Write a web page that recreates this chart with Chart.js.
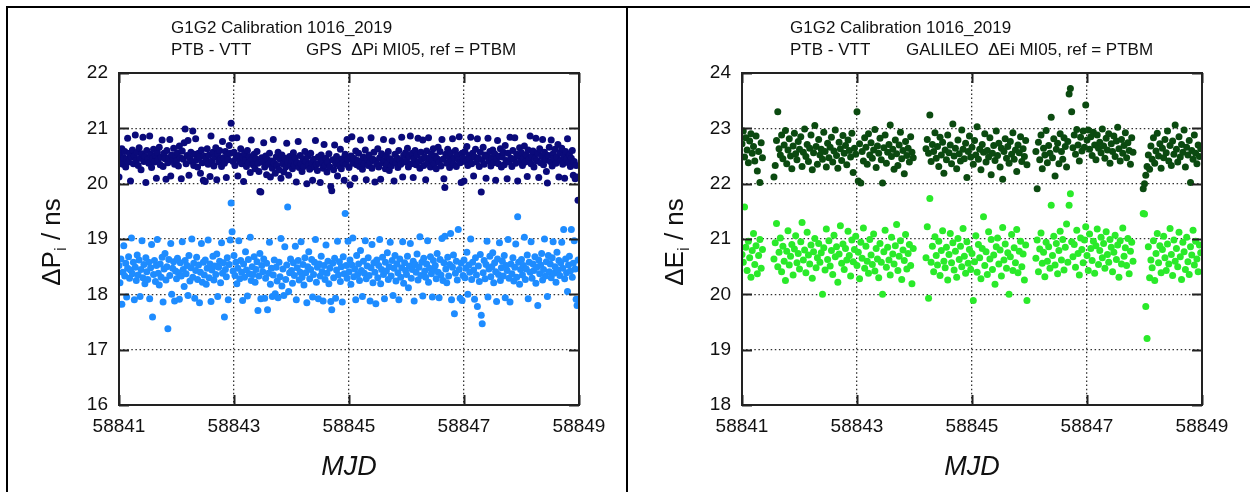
<!DOCTYPE html>
<html>
<head>
<meta charset="utf-8">
<script src="https://cdn.jsdelivr.net/npm/chart.js@4.4.1/dist/chart.umd.min.js"></script>
<style>
    html, body { margin: 0; padding: 0; background: #fff; }
    #page { position: relative; width: 1250px; height: 492px; overflow: hidden; }
    canvas { position: absolute; top: 0; }
    .rule { position: absolute; background: #000; z-index: 2; }
</style>
</head>
<body>
<div id="page">
    <canvas id="gpsChart" width="626" height="492" style="left:0"></canvas>
    <canvas id="galChart" width="627" height="492" style="left:623px"></canvas>
    <div class="rule" style="left:6px;top:6px;width:2px;height:486px"></div>
    <div class="rule" style="left:6px;top:6px;width:1244px;height:2px"></div>
    <div class="rule" style="left:626px;top:6px;width:2px;height:486px"></div>
</div>
<script>
// MJD axis
const mjdStart = 58841;
const mjdTicks = [58841, 58843, 58845, 58847, 58849];
const gpsTicksY = [16, 17, 18, 19, 20, 21, 22];
const galTicksY = [18, 19, 20, 21, 22, 23, 24];
// tracks per day in each file
const gpsPerDay = 60;
const galPerDay = 45;

// GPS  dPi, upper (dark) and lower (light) cloud, ns
const gpsDeltaP1 = [
    20.12, 20.52, 20.41, 20.63, 20.35, 20.47, 20.58, 20.30, 20.44, 20.82,
    20.39, 20.55, 20.05, 20.48, 20.61, 20.36, 20.50, 20.88, 20.42, 20.57,
    20.33, 20.65, 20.46, 20.25, 20.54, 20.84, 20.40, 20.49, 20.02, 20.60,
    20.44, 20.37, 20.86, 20.53, 20.29, 20.46, 20.62, 20.39, 20.51, 20.10,
    20.57, 20.43, 20.66, 20.34, 20.48, 20.79, 20.31, 20.55, 20.45, 20.08,
    20.60, 20.38, 20.47, 20.80, 20.14, 20.52, 20.42, 20.64, 20.35, 20.50,
    20.41, 20.56, 20.32, 20.68, 20.47, 20.09, 20.59, 20.44, 20.74, 20.99,
    20.36, 20.51, 20.78, 20.15, 20.46, 20.57, 20.40, 20.95, 20.33, 20.53,
    20.81, 20.43, 20.30, 20.55, 20.48, 20.19, 20.61, 20.38, 20.06, 20.50,
    20.04, 20.45, 20.63, 20.35, 20.52, 20.13, 20.86, 20.41, 20.57, 20.32,
    20.48, 20.65, 20.07, 20.54, 20.39, 20.60, 20.45, 20.31, 20.76, 20.47,
    20.37, 20.58, 20.11, 20.52, 20.43, 20.69, 20.55, 21.09, 20.82, 20.40,
    20.57, 20.33, 20.46, 20.83, 20.14, 20.51, 20.40, 20.63, 20.36, 20.48,
    20.04, 20.55, 20.42, 20.31, 20.60, 20.38, 20.49, 20.20, 20.79, 20.44,
    20.34, 20.53, 20.27, 20.45, 20.58, 20.37, 20.22, 19.86, 19.85, 20.47,
    20.39, 20.74, 20.30, 20.50, 20.16, 20.43, 20.35, 20.55, 20.12, 20.41,
    20.28, 20.80, 20.37, 20.19, 20.48, 20.33, 20.57, 20.25, 20.44, 20.10,
    20.52, 20.36, 20.21, 20.46, 20.30, 20.73, 20.39, 20.15, 20.49, 20.34,
    20.42, 20.27, 20.56, 20.33, 20.47, 20.03, 20.38, 20.76, 20.29, 20.51,
    20.36, 20.22, 20.45, 20.31, 20.58, 20.40, 20.00, 20.49, 20.34, 20.26,
    20.55, 20.38, 20.06, 20.44, 20.30, 20.78, 20.35, 20.24, 20.48, 20.37,
    20.02, 20.52, 20.41, 20.28, 20.71, 20.33, 20.46, 20.21, 20.39, 20.54,
    20.30, 19.95, 19.87, 20.43, 20.25, 20.70, 20.36, 20.49, 20.14, 20.40,
    20.32, 20.62, 20.27, 20.45, 20.38, 20.06, 20.53, 20.35, 20.80, 20.44,
    20.29, 19.98, 20.50, 20.85, 20.37, 20.46, 20.10, 20.59, 20.34, 20.42,
    20.55, 20.31, 20.79, 20.40, 20.26, 20.48, 20.36, 20.61, 20.07, 20.45,
    20.33, 20.52, 20.39, 20.83, 20.28, 20.44, 20.57, 20.03, 20.41, 20.35,
    20.63, 20.30, 20.47, 20.08, 20.54, 20.38, 20.80, 20.42, 20.27, 20.50,
    20.36, 20.58, 20.24, 20.45, 20.32, 20.77, 20.40, 20.05, 20.53, 20.37,
    20.47, 20.29, 20.60, 20.43, 20.35, 20.84, 20.12, 20.51, 20.39, 20.56,
    20.41, 20.64, 20.30, 20.49, 20.86, 20.36, 20.55, 20.11, 20.45, 20.60,
    20.34, 20.52, 20.82, 20.40, 20.28, 20.57, 20.44, 20.79, 20.33, 20.48,
    20.07, 20.59, 20.38, 20.83, 20.46, 20.30, 20.54, 20.42, 20.63, 20.36,
    20.50, 20.27, 20.45, 20.66, 20.39, 20.58, 20.32, 20.80, 20.44, 20.09,
    19.93, 20.53, 20.37, 20.62, 20.48, 20.29, 20.56, 20.41, 20.81, 20.35,
    20.47, 20.60, 20.31, 20.52, 20.43, 20.85, 20.38, 20.02, 20.55, 20.46,
    20.05, 20.58, 20.40, 20.67, 20.33, 20.51, 20.44, 20.84, 20.36, 20.55,
    20.14, 20.48, 20.62, 20.39, 20.81, 20.46, 20.31, 20.57, 19.85, 20.43,
    20.66, 20.35, 20.52, 20.10, 20.49, 20.82, 20.41, 20.58, 20.32, 20.47,
    20.61, 20.38, 20.54, 20.06, 20.45, 20.78, 20.36, 20.50, 20.63, 20.30,
    20.48, 20.57, 20.34, 20.69, 20.42, 20.09, 20.55, 20.39, 20.84, 20.46,
    20.31, 20.60, 20.44, 20.83, 20.37, 20.53, 20.05, 20.49, 20.65, 20.40,
    20.56, 20.33, 20.47, 20.68, 20.39, 20.52, 20.13, 20.61, 20.44, 20.86,
    20.36, 20.50, 20.59, 20.30, 20.46, 20.82, 20.41, 20.55, 20.11, 20.63,
    20.38, 20.49, 20.80, 20.34, 20.57, 20.43, 20.22, 20.01, 20.51, 20.66,
    20.40, 20.79, 20.32, 20.54, 20.45, 20.62, 20.37, 20.48, 20.71, 20.12,
    20.56, 20.42, 20.64, 20.35, 20.50, 20.10, 20.58, 20.44, 20.81, 20.38,
    20.52, 20.31, 20.46, 20.60, 20.15, 20.40, 20.09, 20.33, 20.12, 19.70
];
const gpsDeltaP2 = [
    18.52, 18.21, 18.64, 17.82, 18.40, 18.88, 18.33, 18.56, 17.95, 18.47,
    18.68, 18.29, 18.44, 19.02, 18.37, 18.58, 17.90, 18.49, 18.25, 18.71,
    18.35, 18.62, 17.96, 18.45, 18.97, 18.30, 18.54, 18.19, 18.66, 18.41,
    18.27, 18.58, 17.92, 18.48, 18.90, 17.59, 18.36, 18.61, 18.23, 18.52,
    18.99, 18.38, 18.17, 18.55, 18.31, 18.67, 17.86, 18.46, 18.74, 18.26,
    18.50, 17.38, 18.63, 18.34, 18.92, 18.00, 18.47, 18.59, 17.88, 18.42,
    18.28, 18.65, 18.39, 17.91, 18.57, 18.33, 18.95, 18.45, 18.14, 18.61,
    18.37, 18.52, 17.98, 18.70, 18.24, 18.48, 19.00, 18.31, 18.56, 17.93,
    18.43, 18.67, 18.27, 18.53, 17.85, 18.40, 18.92, 18.22, 18.58, 18.35,
    18.62, 18.18, 18.47, 18.98, 18.30, 18.55, 17.87, 18.44, 18.69, 18.26,
    18.51, 18.36, 18.73, 17.96, 18.49, 18.60, 18.21, 18.93, 18.38, 18.57,
    17.59, 18.45, 18.32, 18.66, 17.90, 18.54, 18.98, 19.65, 19.13, 18.42,
    18.70, 18.34, 18.58, 18.19, 18.47, 18.97, 18.28, 18.61, 18.40, 17.89,
    18.55, 18.31, 18.77, 18.44, 17.97, 18.63, 18.37, 19.03, 18.25, 18.50,
    18.36, 18.68, 18.22, 18.45, 18.59, 17.71, 18.33, 18.74, 17.92, 18.52,
    18.41, 18.64, 17.93, 18.29, 18.56, 17.72, 18.38, 18.94, 18.18, 18.47,
    17.96, 18.35, 18.62, 18.01, 18.49, 18.24, 17.94, 18.58, 18.32, 19.01,
    18.15, 18.46, 17.98, 18.86, 18.27, 18.53, 19.58, 18.05, 18.39, 18.64,
    18.43, 18.20, 18.57, 18.34, 18.87, 17.90, 18.48, 18.61, 18.26, 18.40,
    18.95, 18.31, 18.54, 18.17, 18.66, 18.39, 17.85, 18.50, 18.77, 18.28,
    18.45, 18.63, 17.95, 18.36, 18.58, 18.99, 18.22, 18.49, 17.92, 18.55,
    18.33, 18.69, 18.41, 17.88, 18.52, 18.27, 18.89, 18.38, 18.60, 18.19,
    18.47, 17.87, 17.72, 18.56, 18.30, 18.65, 17.93, 18.44, 18.96, 18.35,
    18.59, 18.23, 18.50, 17.86, 18.68, 18.37, 19.46, 18.52, 18.29, 18.96,
    18.41, 18.62, 18.18, 18.53, 19.02, 18.32, 18.46, 17.90, 18.70, 18.36,
    18.55, 18.25, 18.79, 18.43, 17.96, 18.60, 18.38, 18.97, 18.28, 18.51,
    18.66, 18.34, 17.88, 18.48, 18.90, 18.21, 18.57, 18.40, 17.83, 18.62,
    18.30, 18.52, 18.99, 18.19, 18.45, 18.67, 18.36, 17.92, 18.58, 18.42,
    18.75, 18.27, 18.50, 18.94, 18.33, 18.61, 17.98, 18.47, 18.70, 18.24,
    18.55, 18.39, 17.90, 18.64, 18.31, 18.48, 18.95, 18.20, 18.57, 18.43,
    18.36, 18.69, 18.12, 18.51, 18.92, 18.29, 18.45, 18.60, 17.88, 18.54,
    18.40, 18.73, 18.26, 18.49, 19.04, 18.34, 18.58, 17.97, 18.65, 18.42,
    18.31, 18.55, 18.97, 18.22, 18.47, 18.68, 18.37, 17.95, 18.61, 18.44,
    18.52, 18.28, 18.74, 18.40, 17.94, 18.63, 18.35, 19.01, 18.25, 18.57,
    19.05, 18.46, 18.21, 18.67, 18.33, 18.54, 19.10, 17.90, 18.49, 18.71,
    17.65, 18.38, 18.60, 18.26, 19.17, 18.45, 17.93, 18.56, 17.89, 18.34,
    18.62, 18.30, 18.47, 18.76, 18.00, 18.53, 18.40, 19.00, 18.27, 18.58,
    18.44, 17.91, 18.66, 18.35, 17.78, 18.51, 18.23, 18.72, 17.62, 17.47,
    18.39, 18.61, 18.28, 18.54, 18.96, 17.95, 18.46, 18.69, 18.32, 18.50,
    18.75, 18.21, 18.57, 18.41, 17.87, 18.64, 18.36, 18.93, 18.25, 18.48,
    18.60, 18.33, 18.70, 17.94, 18.52, 18.43, 18.99, 18.29, 17.86, 18.55,
    18.37, 18.66, 18.24, 18.49, 18.91, 18.31, 19.40, 18.58, 18.18, 18.45,
    18.63, 18.35, 18.52, 19.03, 18.27, 18.46, 18.71, 17.92, 18.58, 18.40,
    18.95, 18.29, 18.55, 18.43, 18.68, 18.20, 18.49, 17.80, 18.62, 18.37,
    18.53, 18.74, 18.26, 18.45, 19.00, 18.33, 18.59, 17.96, 18.70, 18.41,
    18.55, 18.30, 18.66, 18.95, 18.38, 18.50, 18.22, 18.76, 18.44, 18.61,
    18.34, 18.57, 18.94, 18.47, 19.17, 18.28, 18.64, 18.39, 18.05, 18.53,
    18.69, 18.42, 19.17, 18.31, 18.56, 18.97, 18.46, 17.91, 17.80, 18.62
];

// GALILEO  dEi, upper (dark) and lower (light) cloud, ns; null = no track
const galDeltaE1 = [
    22.72, 22.95, 22.48, 22.83, 22.61, 22.38, 22.77, 22.90, 22.55, 22.67,
    22.41, 22.86, 22.23, 22.58, 22.02, 22.74, 22.47, null, null, null,
    null, null, null, null, null, 22.12, 22.33, 22.78, 23.30, 22.63,
    22.52, 22.88, 22.45, 22.70, 22.96, 22.36, 22.61, 22.81, 22.50, 22.27,
    22.68, 22.91, 22.54, 22.43, 22.76, 22.62, 22.85, 22.31, 22.57, 22.99,
    22.49, 22.71, 22.40, 22.64, 22.88, 22.25, 22.56, 23.05, 22.67, 22.35,
    22.80, 22.52, 22.62, 22.44, 22.93, 22.58, 22.30, 22.73, 22.47, 22.66,
    22.84, 22.39, 22.59, 22.97, 22.51, 22.28, 22.75, 22.63, 22.42, 22.87,
    22.55, 22.69, 22.34, 22.79, 22.60, 22.48, 22.91, 22.20, 22.64, 22.53,
    23.30, 22.05, 22.72, 22.01, 22.58, 22.41, 22.83, 22.66, 22.35, 22.90,
    22.52, 22.74, 22.46, 22.61, 22.98, 22.29, 22.68, 22.55, 22.82, 22.43,
    22.01, 22.65, 22.88, 22.37, 22.57, 22.71, 23.06, 22.49, 22.62, 22.26,
    22.79, 22.54, 22.33, 22.70, 22.93, 22.45, 22.60, 22.18, 22.76, 22.51,
    22.64, 22.39, 22.85, 22.57, 22.47, null, null, null, null, null,
    null, null, null, null, 22.63, 22.80, 22.55, 23.24, 22.40, 22.71,
    22.58, 22.92, 22.46, 22.67, 22.31, 22.84, 22.52, 22.75, 22.19, 22.61,
    22.43, 22.88, 22.56, 22.70, 22.36, 23.08, 22.50, 22.64, 22.27, 22.79,
    22.54, 22.41, 22.97, 22.62, 22.45, 22.73, 22.11, 22.58, 22.86, 22.48,
    22.66, 22.35, 22.78, 22.52, 23.03, 22.44, 22.62, 22.25, 22.71, 22.57,
    22.90, 22.39, 22.60, 22.48, 22.83, 22.16, 22.55, 22.69, 22.42, 22.95,
    22.51, 22.73, 22.30, 22.64, 22.08, 22.58, 22.81, 22.46, 22.67, 22.37,
    22.76, 22.53, 22.92, 22.44, 22.61, 22.22, 22.70, 22.56, 22.85, 22.40,
    22.63, 22.49, 22.78, 22.34, null, null, null, null, null, null,
    22.58, 21.91, 22.75, 22.43, 22.88, 22.27, 22.64, 22.52, 22.96, 22.38,
    22.69, 22.55, 23.20, 22.47, 22.81, 22.14, 22.62, 22.73, 22.36, 22.90,
    22.58, 22.44, 22.83, 22.67, 22.30, 22.76, 23.62, 23.72, 23.30, 22.65,
    22.88, 22.53, 22.98, 22.70, 22.41, 22.84, 22.59, 22.95, 22.66, 23.42,
    22.79, 22.97, 22.62, 22.85, 22.51, 22.93, 22.70, 22.43, 22.88, 22.64,
    22.75, 22.56, 22.99, 22.68, 22.46, 22.82, 22.61, 22.90, 22.37, 22.72,
    22.58, 22.86, 22.49, 22.77, 23.02, 22.63, 22.41, 22.80, 22.55, 22.69,
    22.92, 22.47, 22.74, 22.60, 22.35, 22.83, 22.57, null, null, null,
    null, null, null, null, 21.91, 22.00, 22.15, 22.31, 22.52, 22.26,
    22.68, 22.44, 22.83, 22.37, 22.59, 22.91, 22.50, 22.72, 22.28, 22.64,
    22.47, 22.80, 22.56, 22.95, 22.41, 22.69, 22.33, 22.77, 22.53, 23.06,
    22.62, 22.39, 22.85, 22.48, 22.71, 22.57, 22.97, 22.30, 22.66, 22.52,
    22.78, 22.02, 22.60, 22.44, 22.88, 22.55, 22.36, 22.70, 22.49, 22.63
];
const galDeltaE5 = [
    20.72, 20.58, 21.58, 20.85, 20.43, 20.96, 20.66, 20.31, 20.79, 21.10,
    20.54, 20.88, 20.37, 20.70, 20.99, 20.47, 20.81, null, null, null,
    null, null, null, null, null, 20.64, 20.93, 21.28, 20.50, 20.76,
    21.02, 20.41, 20.87, 20.60, 20.25, 20.78, 21.15, 20.53, 20.69, 20.90,
    20.35, 20.82, 21.06, 20.57, 20.74, 20.46, 20.95, 21.30, 20.62, 20.80,
    20.39, 21.12, 20.71, 20.55, 20.89, 20.29, 20.77, 21.01, 20.48, 20.66,
    20.92, 20.58, 20.75, 20.00, 20.84, 20.44, 21.18, 20.63, 20.97, 20.51,
    20.79, 20.36, 21.07, 20.68, 20.86, 20.22, 20.73, 21.24, 20.56, 20.91,
    20.45, 20.83, 20.62, 21.14, 20.70, 20.33, 20.98, 20.59, 20.81, 21.05,
    20.52, 20.76, 20.28, 20.94, 20.65, 21.20, 20.47, 20.87, 20.60, 20.38,
    20.99, 20.71, 20.54, 21.09, 20.42, 20.83, 20.64, 20.30, 20.92, 20.58,
    20.00, 20.77, 21.16, 20.49, 20.85, 20.62, 20.35, 21.03, 20.73, 20.55,
    20.88, 21.26, 20.43, 20.69, 20.97, 20.27, 20.80, 20.61, 21.08, 20.46,
    20.74, 20.90, 20.52, 20.19, 20.83, null, null, null, null, null,
    null, null, null, null, 20.66, 21.22, 19.93, 21.73, 20.58, 20.87,
    20.41, 21.04, 20.70, 20.53, 20.96, 20.34, 20.79, 21.15, 20.60, 20.48,
    20.85, 20.26, 20.72, 21.10, 20.57, 20.93, 20.44, 20.78, 20.31, 21.01,
    20.63, 20.87, 20.50, 21.19, 20.69, 20.38, 20.95, 20.56, 20.81, 20.45,
    20.74, 19.89, 20.59, 21.06, 20.40, 20.90, 20.66, 20.28, 20.83, 21.40,
    20.52, 20.77, 20.36, 21.13, 20.64, 20.99, 20.45, 20.71, 20.18, 20.86,
    21.02, 20.55, 20.80, 20.33, 21.21, 20.62, 20.91, 20.47, 20.75, 20.00,
    20.68, 21.08, 20.43, 20.84, 20.57, 21.17, 20.39, 20.78, 20.96, 20.50,
    20.73, 20.26, 20.89, 19.89, null, null, null, null, null, null,
    20.65, 20.98, 20.41, 20.82, 21.11, 20.56, 20.76, 20.32, 20.94, 20.60,
    20.86, 20.47, 21.61, 20.70, 21.05, 20.53, 20.92, 20.37, 20.79, 21.14,
    20.62, 20.99, 20.44, 20.85, 21.27, 20.58, 21.61, 21.82, 20.95, 20.68,
    20.90, 20.49, 21.16, 20.74, 20.35, 21.02, 20.81, 20.57, 20.98, 21.22,
    20.70, 20.43, 21.09, 20.83, 20.61, 20.96, 20.38, 20.88, 21.18, 20.54,
    20.79, 21.03, 20.66, 20.92, 20.47, 21.13, 20.72, 20.58, 20.99, 20.85,
    20.41, 20.76, 21.07, 20.63, 20.89, 20.31, 20.97, 20.55, 21.20, 20.69,
    20.84, 20.52, 21.01, 20.37, 20.78, 20.94, 20.60, null, null, null,
    null, null, null, null, 21.46, 21.45, 19.78, 19.20, 20.86, 20.30,
    20.62, 20.48, 20.97, 20.25, 20.74, 21.10, 20.57, 20.88, 20.39, 20.81,
    21.05, 20.66, 20.43, 20.91, 20.55, 21.19, 20.72, 20.34, 20.98, 20.60,
    20.83, 20.50, 21.12, 20.68, 20.27, 20.94, 20.77, 20.45, 21.03, 20.59,
    20.36, 20.86, 20.71, 21.16, 20.53, 20.96, 20.64, 20.41, 20.89, 20.75
];

Chart.defaults.font.family = '"Liberation Sans", Arial, sans-serif';
Chart.defaults.color = '#111';

function toPoints(values, perDay) {
    const pts = [];
    values.forEach(function (v, i) {
        if (v !== null) pts.push({ x: mjdStart + i / perDay, y: v });
    });
    return pts;
}

// frame with inward ticks, header lines and axis titles
const frameAndText = {
    id: 'frameAndText',
    afterDatasetsDraw(chart, args, opts) {
        const { ctx, chartArea: a, scales } = chart;
        ctx.save();
        ctx.strokeStyle = '#222';
        ctx.lineWidth = 2;
        ctx.strokeRect(a.left, a.top, a.right - a.left, a.bottom - a.top);
        ctx.beginPath();
        scales.x.ticks.forEach(function (t) {
            const px = Math.round(scales.x.getPixelForValue(t.value)) + 0.5;
            ctx.moveTo(px, a.bottom); ctx.lineTo(px, a.bottom - 10);
            ctx.moveTo(px, a.top); ctx.lineTo(px, a.top + 10);
        });
        scales.y.ticks.forEach(function (t) {
            const py = Math.round(scales.y.getPixelForValue(t.value)) + 0.5;
            ctx.moveTo(a.left, py); ctx.lineTo(a.left + 10, py);
            ctx.moveTo(a.right, py); ctx.lineTo(a.right - 10, py);
        });
        ctx.stroke();

        ctx.fillStyle = '#111';
        ctx.textBaseline = 'alphabetic';
        ctx.textAlign = 'left';
        ctx.font = '17px "Liberation Sans", Arial, sans-serif';
        ctx.fillText(opts.head1, opts.headX, 33);
        ctx.fillText(opts.head2a, opts.headX, 55);
        ctx.fillText(opts.head2b, opts.head2bX, 55);

        ctx.font = 'italic 27px "Liberation Sans", Arial, sans-serif';
        ctx.textAlign = 'center';
        ctx.fillText(opts.xTitle, (a.left + a.right) / 2, 475);

        // rotated y title with subscript
        const big = '26px "Liberation Sans", Arial, sans-serif';
        const small = '17px "Liberation Sans", Arial, sans-serif';
        ctx.font = big;
        const w1 = ctx.measureText(opts.yMain).width;
        const w3 = ctx.measureText(opts.yTail).width;
        ctx.font = small;
        const w2 = ctx.measureText(opts.ySub).width;
        const total = w1 + w2 + w3;
        ctx.translate(60, (a.top + a.bottom) / 2 + 3);
        ctx.rotate(-Math.PI / 2);
        ctx.textAlign = 'left';
        ctx.font = big;
        ctx.fillText(opts.yMain, -total / 2, 0);
        ctx.font = small;
        ctx.fillText(opts.ySub, -total / 2 + w1, 6);
        ctx.font = big;
        ctx.fillText(opts.yTail, -total / 2 + w1 + w2, 0);
        ctx.restore();
    }
};

function makeChart(id, datasets, yTicks, texts) {
    const canvas = document.getElementById(id);
    return new Chart(canvas.getContext('2d'), {
        type: 'scatter',
        data: { datasets: datasets },
        options: {
            responsive: false,
            animation: false,
            layout: { padding: { left: 0, top: 73, right: canvas.width - 579, bottom: 0 } },
            elements: { point: { radius: 3.5, borderWidth: 0, hoverRadius: 3.5 } },
            scales: {
                x: {
                    type: 'linear',
                    min: mjdTicks[0],
                    max: mjdTicks[mjdTicks.length - 1],
                    afterBuildTicks: function (s) { s.ticks = mjdTicks.map(v => ({ value: v })); },
                    afterFit: function (s) { s.height = 492 - 73 - 332; },
                    ticks: {
                        autoSkip: false,
                        maxRotation: 0,
                        padding: 10,
                        font: { size: 19 },
                        callback: v => String(v)
                    },
                    grid: {
                        color: '#333',
                        lineWidth: 1.3,
                        drawTicks: false
                    },
                    border: { display: false, dash: [1.5, 2.6] }
                },
                y: {
                    min: yTicks[0],
                    max: yTicks[yTicks.length - 1],
                    afterBuildTicks: function (s) { s.ticks = yTicks.map(v => ({ value: v })); },
                    afterFit: function (s) { s.width = 119; },
                    ticks: {
                        padding: 11,
                        font: { size: 19 },
                        callback: v => String(v)
                    },
                    grid: {
                        color: '#333',
                        lineWidth: 1.3,
                        drawTicks: false
                    },
                    border: { display: false, dash: [1.5, 2.6] }
                }
            },
            plugins: {
                legend: { display: false },
                tooltip: { enabled: false },
                frameAndText: texts
            }
        },
        plugins: [frameAndText]
    });
}

makeChart('gpsChart', [
    { label: 'GPS dP1', data: toPoints(gpsDeltaP1, gpsPerDay), backgroundColor: '#0a0a7a' },
    { label: 'GPS dP2', data: toPoints(gpsDeltaP2, gpsPerDay), backgroundColor: '#1e8cff' }
], gpsTicksY, {
    head1: 'G1G2 Calibration 1016_2019',
    head2a: 'PTB - VTT',
    head2b: 'GPS  \u0394Pi MI05, ref = PTBM',
    headX: 171,
    head2bX: 306,
    xTitle: 'MJD',
    yMain: '\u0394P',
    ySub: 'i',
    yTail: ' / ns'
});

makeChart('galChart', [
    { label: 'GALILEO dE1', data: toPoints(galDeltaE1, galPerDay), backgroundColor: '#0b4a10' },
    { label: 'GALILEO dE5', data: toPoints(galDeltaE5, galPerDay), backgroundColor: '#2aea2a' }
], galTicksY, {
    head1: 'G1G2 Calibration 1016_2019',
    head2a: 'PTB - VTT',
    head2b: 'GALILEO  \u0394Ei MI05, ref = PTBM',
    headX: 167,
    head2bX: 283,
    xTitle: 'MJD',
    yMain: '\u0394E',
    ySub: 'i',
    yTail: ' / ns'
});
</script>
</body>
</html>
